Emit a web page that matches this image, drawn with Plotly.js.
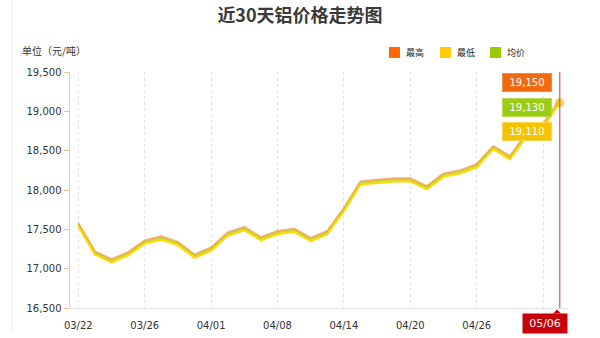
<!DOCTYPE html>
<html>
<head>
<meta charset="utf-8">
<script src="https://cdn.plot.ly/plotly-3.0.1.min.js"></script>
<style>
  html, body { margin: 0; padding: 0; background: #fff; }
  #chart { width: 600px; height: 338px; }
</style>
</head>
<body>
<div id="chart"></div>
<script>
// Trading dates (last 30 quotes)
const dates = [
  '03/22','03/23','03/24','03/25','03/26','03/27','03/28','03/29',
  '04/01','04/02','04/03','04/04','04/08','04/09','04/10','04/12',
  '04/14','04/15','04/16','04/18','04/20','04/22','04/23','04/25',
  '04/26','04/27','04/28','04/29','04/30','05/06'
];

// Aluminium prices, yuan / tonne
const highPrice = [
  17580,17220,17120,17210,17360,17410,17340,17180,17270,17460,
  17530,17400,17480,17510,17390,17480,17770,18110,18130,18150,
  18150,18050,18210,18250,18330,18560,18430,18720,18840,19150
];
const avgPrice = [
  17560,17200,17100,17190,17340,17390,17320,17160,17250,17440,
  17510,17380,17460,17490,17370,17460,17750,18090,18110,18130,
  18130,18030,18190,18230,18310,18540,18410,18700,18820,19130
];
const lowPrice = [
  17540,17180,17080,17170,17320,17370,17300,17140,17230,17420,
  17490,17360,17440,17470,17350,17440,17730,18070,18090,18110,
  18110,18010,18170,18210,18290,18520,18390,18680,18800,19110
];

// Labelled ticks on the date axis (every fourth quote)
const tickDates = ['03/22','03/26','04/01','04/08','04/14','04/20','04/26','04/30'];
const tickText  = ['03/22','03/26','04/01','04/08','04/14','04/20','04/26',''];

const seriesNames = ['最高', '最低', '均价'];
const seriesColors = ['#ff6a00', '#ffcc00', '#99cc00'];

const last = dates.length - 1;
const fmt = v => v.toLocaleString('en-US');

// Marker only on the most recent point
const endMarker = dates.map((d, i) => (i === last ? 8 : 0));

const traces = [
  { x: dates, y: highPrice, name: seriesNames[0], mode: 'lines', opacity: 0.55,
    line: { color: seriesColors[0], width: 2 }, hoverinfo: 'skip' },
  { x: dates, y: avgPrice, name: seriesNames[2], mode: 'lines', opacity: 0.7,
    line: { color: seriesColors[2], width: 2 }, hoverinfo: 'skip' },
  { x: dates, y: lowPrice, name: seriesNames[1], mode: 'lines+markers',
    line: { color: '#ffd800', width: 2.2 },
    marker: { size: endMarker, color: '#f2c81a', line: { width: 1, color: '#e0b000' } },
    hoverinfo: 'skip' }
];

// Pixel helpers for the plot box (l=70, t=72, w=498, h=236)
const PL = 70, PT = 72, PW = 498, PH = 236;
const px = x => (x - PL) / PW;
const py = y => (PT + PH - y) / PH;

// Legend swatches drawn as squares with captions
const legendItems = [
  { x0: 389, label: seriesNames[0], color: seriesColors[0] },
  { x0: 440, label: seriesNames[1], color: seriesColors[1] },
  { x0: 490, label: seriesNames[2], color: seriesColors[2] }
];

const shapes = [];
const annotations = [];

legendItems.forEach(it => {
  shapes.push({
    type: 'rect', xref: 'paper', yref: 'paper',
    x0: px(it.x0), x1: px(it.x0 + 11), y0: py(58), y1: py(47),
    fillcolor: it.color, line: { width: 0 }
  });
  annotations.push({
    xref: 'paper', yref: 'paper', x: px(it.x0 + 15), y: py(52.5),
    xanchor: 'left', yanchor: 'middle', showarrow: false,
    text: it.label, font: { size: 9, color: '#222', family: 'Noto Sans CJK SC' }
  });
});

// Unit caption
annotations.push({
  xref: 'paper', yref: 'paper', x: px(20), y: py(50),
  xanchor: 'left', yanchor: 'middle', showarrow: false,
  text: '单位（元/吨）', font: { size: 10, color: '#333', family: 'Noto Sans CJK SC' }
});

// Latest-value badges
const badges = [
  { value: highPrice[last], color: '#f26a10', border: '#f58a40', y: 82 },
  { value: avgPrice[last],  color: '#9ccc14', border: '#b5dc50', y: 107 },
  { value: lowPrice[last],  color: '#f5c400', border: '#f8d850', y: 131 }
];
badges.forEach(b => {
  annotations.push({
    xref: 'paper', yref: 'paper', x: px(552), y: py(b.y),
    xanchor: 'right', yanchor: 'middle', showarrow: false,
    text: fmt(b.value), bgcolor: b.color, bordercolor: b.border, borderwidth: 1,
    borderpad: 3, width: 42,
    font: { size: 10, color: '#fff', family: 'Verdana, DejaVu Sans' }
  });
});

// Current date marker on the axis
annotations.push({
  xref: 'paper', yref: 'paper', x: px(545), y: py(313),
  xanchor: 'center', yanchor: 'top', showarrow: false,
  text: dates[last], bgcolor: '#c8000a', borderpad: 3, width: 38,
  font: { size: 11, color: '#fff', family: 'Verdana, DejaVu Sans' }
});
shapes.push({
  type: 'path', xref: 'paper', yref: 'paper',
  path: `M ${px(553)} ${py(313.5)} L ${px(557)} ${py(309.5)} L ${px(561)} ${py(313.5)} Z`,
  fillcolor: '#c8000a', line: { width: 0 }
});

// Crosshair at the latest quote
shapes.push({
  type: 'line', xref: 'x', yref: 'paper',
  x0: last, x1: last, y0: 0, y1: 1,
  line: { color: 'rgba(214,70,90,0.75)', width: 1.5 }
});

// Faint frame edge on the left
shapes.push({
  type: 'line', xref: 'paper', yref: 'paper',
  x0: px(12), x1: px(12), y0: py(333), y1: py(0),
  line: { color: '#e6eef6', width: 1 }
});

const layout = {
  width: 600, height: 338,
  margin: { l: PL, r: 600 - PL - PW, t: PT, b: 338 - PT - PH },
  paper_bgcolor: '#fff', plot_bgcolor: '#fff',
  showlegend: false,
  title: {
    text: '近30天铝价格走势图', x: 0.5, xref: 'container', xanchor: 'center',
    y: 1 - 16 / 338, yanchor: 'middle',
    font: { size: 18, color: '#3a3a3a', family: 'Noto Sans CJK SC', weight: 'bold' }
  },
  xaxis: {
    type: 'category', range: [-0.5, dates.length - 0.5],
    tickmode: 'array', tickvals: tickDates, ticktext: tickText,
    showgrid: true, gridcolor: '#e2e2e2', griddash: 'dot', gridwidth: 1,
    showline: true, linecolor: '#e4e4e4', linewidth: 1,
    ticks: '', ticklabelstandoff: 8, zeroline: false,
    tickfont: { size: 10, color: '#333', family: 'Verdana, DejaVu Sans' },
    fixedrange: true
  },
  yaxis: {
    range: [16500, 19500], tickvals: [16500, 17000, 17500, 18000, 18500, 19000, 19500],
    tickformat: ',d', showgrid: false, zeroline: false,
    showline: true, linecolor: '#f7c9a2', linewidth: 1.5,
    ticks: 'outside', ticklen: 5, tickcolor: '#f0c090', tickwidth: 1,
    tickfont: { size: 10, color: '#333', family: 'Verdana, DejaVu Sans' },
    fixedrange: true
  },
  shapes: shapes,
  annotations: annotations
};

Plotly.newPlot('chart', traces, layout, { displayModeBar: false, staticPlot: true });
</script>
</body>
</html>
